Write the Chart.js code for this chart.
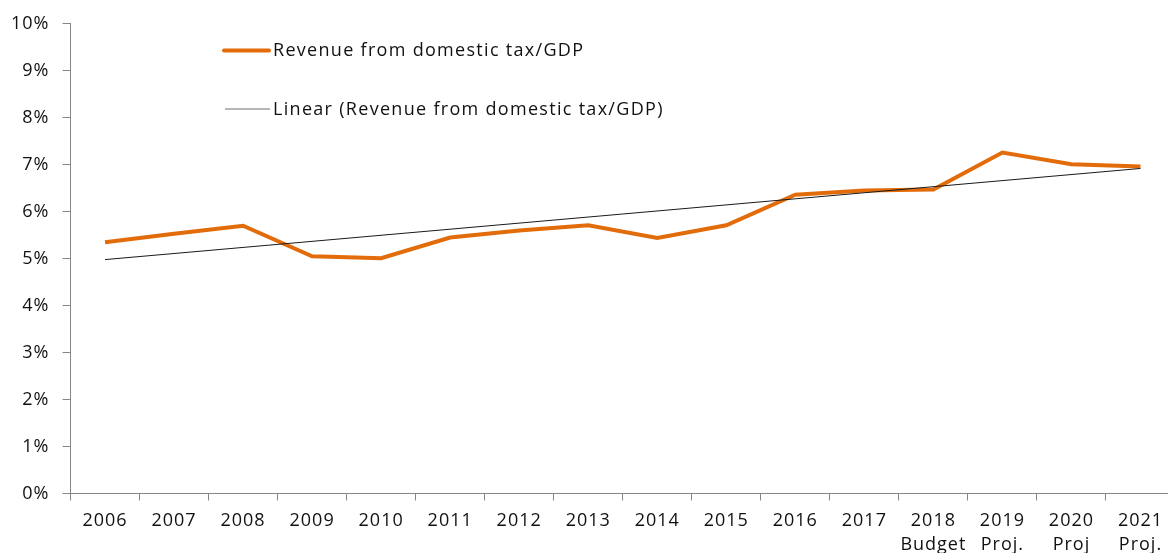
<!DOCTYPE html>
<html>
<head>
<meta charset="utf-8">
<script src="https://cdn.jsdelivr.net/npm/chart.js@4"></script>
<style>
html,body{margin:0;padding:0;background:#fff;overflow:hidden;}
#wrap{width:1180px;height:553px;position:relative;}
</style>
</head>
<body>
<div id="wrap"><canvas id="c" width="1180" height="553"></canvas></div>
<script>
const categories = [
  ['2006'], ['2007'], ['2008'], ['2009'], ['2010'], ['2011'], ['2012'], ['2013'],
  ['2014'], ['2015'], ['2016'], ['2017'], ['2018', 'Budget'], ['2019', 'Proj.'],
  ['2020', 'Proj'], ['2021', 'Proj.']
];
const revenueSeries = [5.35, 5.53, 5.70, 5.05, 5.01, 5.45, 5.60, 5.71, 5.44, 5.71, 6.36, 6.45, 6.47, 7.26, 7.01, 6.96];
const trendSeries = [4.98, null, null, null, null, null, null, null, null, null, null, null, null, null, null, 6.92];
const yTicks = [0, 1, 2, 3, 4, 5, 6, 7, 8, 9, 10];
const seriesNames = ['Revenue from domestic tax/GDP', 'Linear (Revenue from domestic tax/GDP)'];

const FONT = '"Open Sans", "Liberation Sans", sans-serif';
const TEXT = '#111111';
const AXIS = '#868686';
const ORANGE = '#E36C0A';

const spacingPlugin = {
  id: 'letterSpacing',
  beforeInit(chart) { chart.ctx.letterSpacing = '1px'; },
  beforeLayout(chart) { chart.ctx.letterSpacing = '1px'; },
  beforeDraw(chart) { chart.ctx.letterSpacing = '1px'; }
};

const legendPlugin = {
  id: 'customLegend',
  afterDraw(chart) {
    const ctx = chart.ctx;
    ctx.save();
    ctx.letterSpacing = '1.3px';
    ctx.font = '18px ' + FONT;
    ctx.fillStyle = TEXT;
    ctx.textBaseline = 'middle';
    // entry 1
    ctx.strokeStyle = ORANGE;
    ctx.lineWidth = 4;
    ctx.lineCap = 'round';
    ctx.beginPath(); ctx.moveTo(224, 50.5); ctx.lineTo(269, 50.5); ctx.stroke();
    ctx.fillText(seriesNames[0], 273, 51);
    // entry 2
    ctx.strokeStyle = '#6e6e6e';
    ctx.lineWidth = 1.2;
    ctx.lineCap = 'butt';
    ctx.beginPath(); ctx.moveTo(225, 109); ctx.lineTo(270, 109); ctx.stroke();
    ctx.fillText(seriesNames[1], 273, 109.5);
    ctx.restore();
  }
};

new Chart(document.getElementById('c'), {
  type: 'line',
  data: {
    labels: categories,
    datasets: [
      {
        label: seriesNames[0],
        data: revenueSeries,
        borderColor: ORANGE,
        borderWidth: 4,
        pointRadius: 0,
        tension: 0,
        order: 2
      },
      {
        label: seriesNames[1],
        data: trendSeries,
        borderColor: '#1a1a1a',
        borderWidth: 1,
        pointRadius: 0,
        spanGaps: true,
        tension: 0,
        order: 1
      }
    ]
  },
  plugins: [spacingPlugin, legendPlugin],
  options: {
    responsive: false,
    animation: false,
    layout: { padding: { top: 23, right: 5, left: 0, bottom: 0 } },
    plugins: { legend: { display: false }, tooltip: { enabled: false } },
    scales: {
      x: {
        type: 'category',
        offset: true,
        border: { color: AXIS, width: 1 },
        grid: { display: true, offset: true, drawOnChartArea: false, drawTicks: true, tickLength: 7, color: AXIS },
        ticks: { color: TEXT, font: { family: FONT, size: 18, lineHeight: 1.36 }, padding: 8, maxRotation: 0, autoSkip: false },
        afterFit(scale) { scale.height = 59.5; }
      },
      y: {
        min: 0, max: 10,
        afterBuildTicks(scale) { scale.ticks = yTicks.map(v => ({ value: v })); },
        border: { color: AXIS, width: 1 },
        grid: { display: true, drawOnChartArea: false, drawTicks: true, tickLength: 8, color: AXIS },
        ticks: { color: TEXT, font: { family: FONT, size: 18 }, padding: 13, callback: v => v + '%' },
        afterFit(scale) { scale.width = 70.5; }
      }
    }
  }
});
</script>
</body>
</html>
